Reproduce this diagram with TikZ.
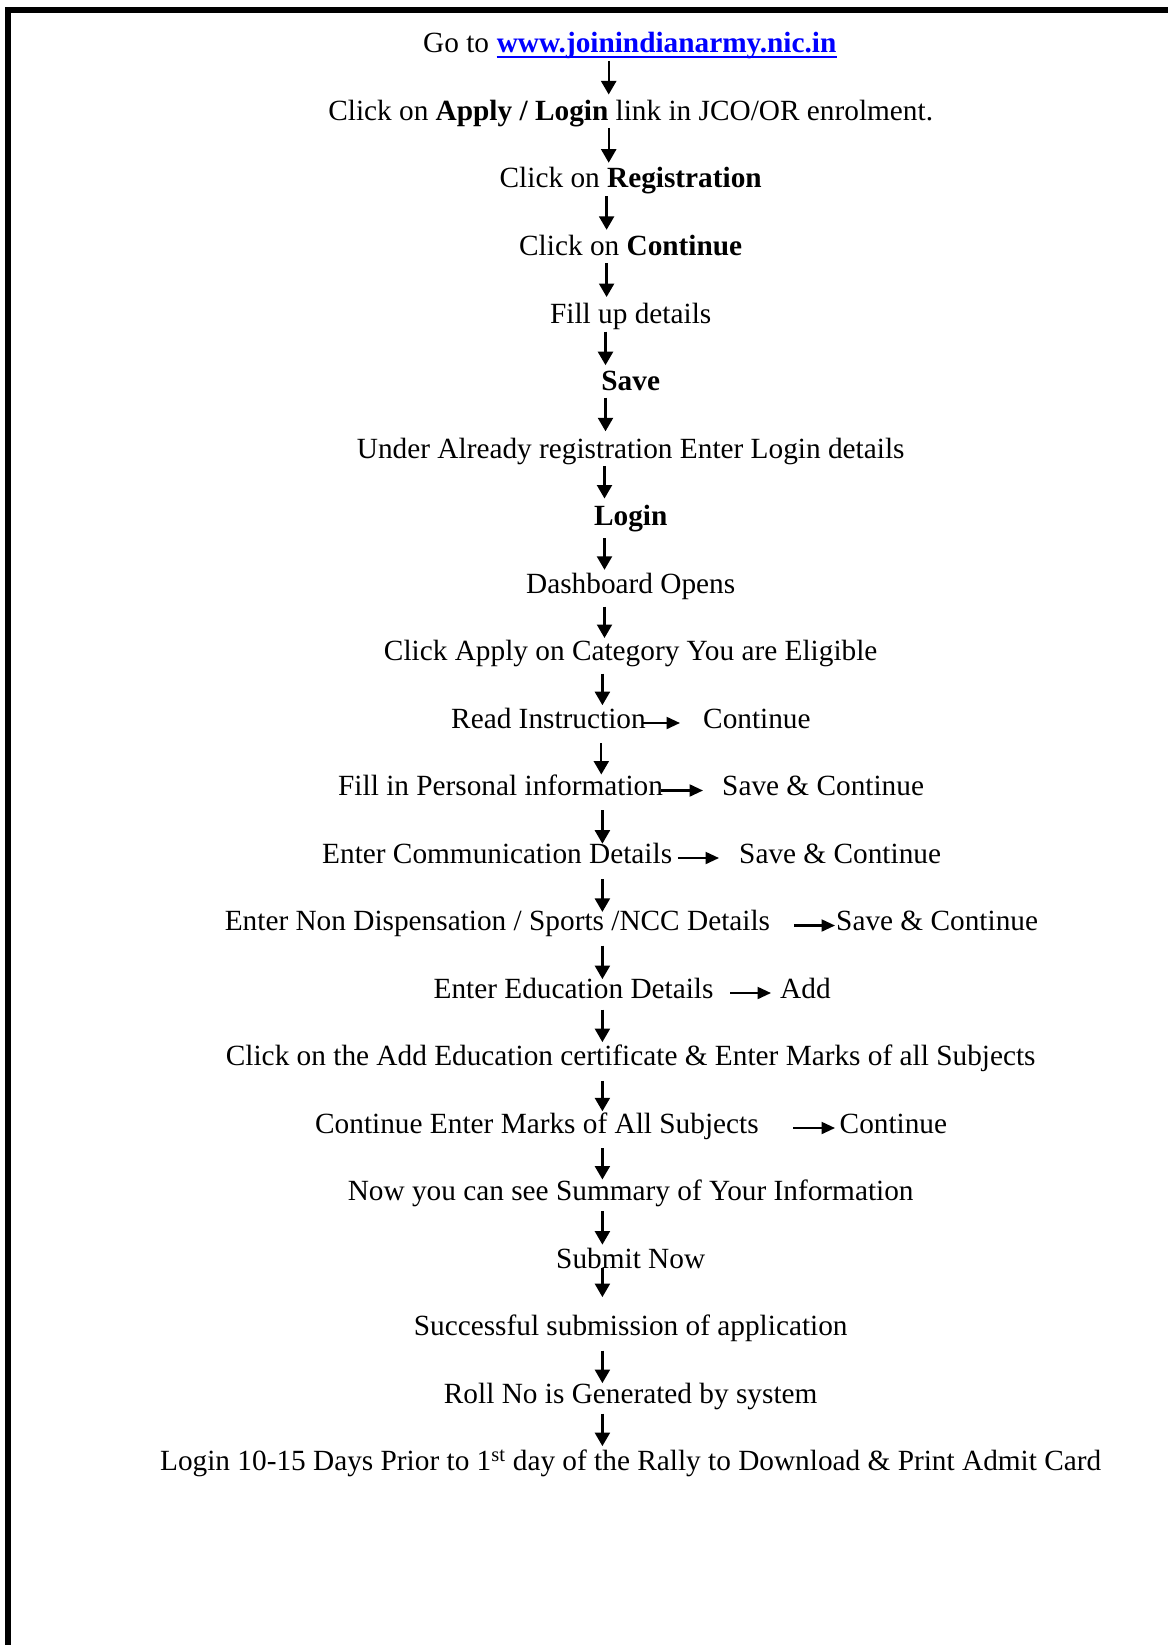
\documentclass[tikz,border=0pt]{standalone}
\usepackage{fontspec}
\setmainfont{Liberation Serif}
\usetikzlibrary{calc,arrows.meta}
\definecolor{linkblue}{RGB}{0,0,255}
\newcommand\dnarr[5]{\draw[darr] ($(#1.base -| #3,0)+(0,#4-2)$) -- ($(#2.base -| #3,0)+(0,#5-2)$);}
\newcommand\rtarr[4]{\draw[rarr] ($(#1.base east)+(#3,-5)$) -- ($(#2.base west)+(#4,-5)$);}
\begin{document}
\begin{tikzpicture}[x=1pt,y=-1pt,
  txt/.style={inner sep=0pt, text height=25pt, text depth=9pt, yshift=-2pt, font=\fontsize{29.3pt}{35pt}\selectfont},
  darr/.style={line width=2.3pt, -{Triangle[length=13.5pt,width=15pt]}},
  rarr/.style={line width=2.2pt, -{Triangle[length=13.5pt,width=12pt]}}]
\useasboundingbox (0,0) rectangle (1168,1645);
\fill[white] (0,0) rectangle (1168,1645);
% page frame
\draw[line width=6pt, line join=miter] (8,1645) -- (8,10) -- (1168,10);
% rows
\node[txt, anchor=base west] (go) at (423,51) {Go to};
\node[txt, anchor=base west, yshift=2pt, text=linkblue, font=\fontsize{29.3pt}{35pt}\selectfont\bfseries] (url) at ($(go.base east)+(7.3,0)$) {www.joinindianarmy.nic.in};
\draw[linkblue, line width=2.5pt] ($(url.base west)+(0,4)$) -- ($(url.base east)+(0,4)$);
\node[txt, anchor=base] (r2) at (630.7,118.5) {Click on \textbf{Apply / Login} link in JCO/OR enrolment.};
\node[txt, anchor=base] (r3) at (630.7,186) {Click on \textbf{Registration}};
\node[txt, anchor=base] (r4) at (630.7,253.5) {Click on \textbf{Continue}};
\node[txt, anchor=base] (r5) at (630.7,321) {Fill up details};
\node[txt, anchor=base] (r6) at (630.7,388.5) {\textbf{Save}};
\node[txt, anchor=base] (r7) at (630.7,456) {Under Already registration Enter Login details};
\node[txt, anchor=base] (r8) at (630.7,523.5) {\textbf{Login}};
\node[txt, anchor=base] (r9) at (630.7,591) {Dashboard Opens};
\node[txt, anchor=base] (r10) at (630.7,658.5) {Click Apply on Category You are Eligible};
\node[txt, anchor=base west] (r11) at (451,726) {Read Instruction};
\node[txt, anchor=base west] (r11b) at (703,726) {Continue};
\node[txt, anchor=base west] (r12) at (338,793.5) {Fill in Personal information};
\node[txt, anchor=base west] (r12b) at (722,793.5) {Save \& Continue};
\node[txt, anchor=base west] (r13) at (322,861) {Enter Communication Details};
\node[txt, anchor=base west] (r13b) at (739,861) {Save \& Continue};
\node[txt, anchor=base west] (r14) at (224.6,928.5) {Enter Non Dispensation / Sports /NCC Details};
\node[txt, anchor=base west] (r14b) at (836,928.5) {Save \& Continue};
\node[txt, anchor=base west] (r15) at (433.4,996) {Enter Education Details};
\node[txt, anchor=base west] (r15b) at (780,996) {Add};
\node[txt, anchor=base] (r16) at (630.7,1063.5) {Click on the Add Education certificate \& Enter Marks of all Subjects};
\node[txt, anchor=base west] (r17) at (315,1131) {Continue Enter Marks of All Subjects};
\node[txt, anchor=base west] (r17b) at (839.5,1131) {Continue};
\node[txt, anchor=base] (r18) at (630.7,1198.5) {Now you can see Summary of Your Information};
\node[txt, anchor=base] (r19) at (630.7,1266) {Submit Now};
\node[txt, anchor=base] (r20) at (630.7,1333.5) {Successful submission of application};
\node[txt, anchor=base] (r21) at (630.7,1401) {Roll No is Generated by system};
\node[txt, anchor=base] (r22) at (630.7,1468.5) {Login 10-15 Days Prior to 1\textsuperscript{st} day of the Rally to Download \& Print Admit Card};
% down arrows
\dnarr{url}{r2}{608.7}{10}{-24}
\dnarr{r2}{r3}{608.7}{9.5}{-23.3}
\dnarr{r3}{r4}{606.6}{10.2}{-23.7}
\dnarr{r4}{r5}{606.6}{9.9}{-24}
\dnarr{r5}{r6}{605.5}{10.6}{-23.3}
\dnarr{r6}{r7}{605.5}{9.2}{-24.7}
\dnarr{r7}{r8}{604.5}{9.9}{-25}
\dnarr{r8}{r9}{604.5}{14.8}{-21.2}
\dnarr{r9}{r10}{604.5}{15.6}{-20.5}
\dnarr{r10}{r11}{602.4}{15.2}{-20.8}
\dnarr{r11}{r12}{601.3}{17}{-19}
\dnarr{r12}{r13}{602.4}{16.6}{-17.3}
\dnarr{r13}{r14}{602.4}{18.4}{-16.6}
\dnarr{r14}{r15}{602.4}{17}{-16.9}
\dnarr{r15}{r16}{602.4}{13.5}{-21.4}
\dnarr{r16}{r17}{602.4}{17.4}{-19.7}
\dnarr{r17}{r18}{602.4}{17}{-19}
\dnarr{r18}{r19}{602.4}{12.5}{-21.4}
\dnarr{r19}{r20}{602.4}{1.7}{-36.4}
\dnarr{r20}{r21}{602.4}{17.1}{-17.9}
\dnarr{r21}{r22}{602.4}{12.5}{-22.4}
% right arrows
\rtarr{r11}{r11b}{-3}{-23}
\rtarr{r12}{r12b}{-2}{-19}
\rtarr{r13}{r13b}{5.5}{-20}
\rtarr{r14}{r14b}{24}{-1}
\rtarr{r15}{r15b}{16.5}{-9}
\rtarr{r17}{r17b}{34.5}{-4.5}
\end{tikzpicture}
\end{document}
